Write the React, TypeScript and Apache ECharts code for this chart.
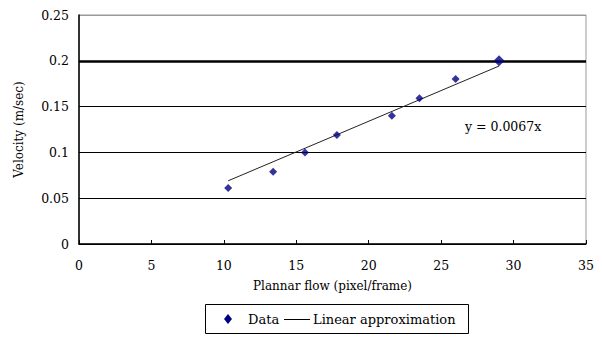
import React, { useEffect, useRef } from "react";
import * as echarts from "echarts";

const flowValues = [10.3, 13.4, 15.6, 17.8, 21.6, 23.5, 26.0, 29.0];
const velocityValues = [0.061, 0.079, 0.1, 0.119, 0.14, 0.159, 0.18, 0.2];
const slope = 0.0067;
const trendRange = [10.3, 29.0];
const xTicks = [0, 5, 10, 15, 20, 25, 30, 35];
const yTicks = [0, 0.05, 0.1, 0.15, 0.2, 0.25];
const equationLabel = "y = 0.0067x";
const xName = "Plannar flow (pixel/frame)";
const yName = "Velocity (m/sec)";
const legendNames = ["Data", "Linear approximation"];

const FONT = "DejaVu Serif";

export default function App() {
  const ref = useRef<HTMLDivElement>(null);
  useEffect(() => {
    if (!ref.current) return;
    const chart = echarts.init(ref.current, null, { renderer: "svg" });
    const pts = flowValues.map((x, i) => ({
      value: [x, velocityValues[i]],
      symbolSize: i === flowValues.length - 1 ? 11 : 8,
    }));
    const trend = trendRange.map((x) => [x, slope * x]);
    chart.setOption({
      animation: false,
      backgroundColor: "#fff",
      grid: {
        left: 79,
        right: 16,
        top: 15,
        bottom: 93,
        show: true,
        borderColor: "#999",
        borderWidth: 1,
      },
      xAxis: {
        type: "value",
        min: xTicks[0],
        max: xTicks[xTicks.length - 1],
        interval: 5,
        name: xName,
        nameLocation: "middle",
        nameGap: 36,
        nameTextStyle: { fontFamily: FONT, fontSize: 12, color: "#000" },
        axisLine: { show: true, lineStyle: { color: "#000", width: 1.5 } },
        axisTick: { show: true, inside: true, length: 4, lineStyle: { color: "#000" } },
        axisLabel: { fontFamily: FONT, fontSize: 12.5, color: "#000", margin: 15 },
        splitLine: { show: false },
      },
      yAxis: {
        type: "value",
        min: yTicks[0],
        max: yTicks[yTicks.length - 1],
        interval: 0.05,
        name: yName,
        nameLocation: "middle",
        nameGap: 54,
        nameTextStyle: { fontFamily: FONT, fontSize: 12, color: "#000" },
        axisLine: { show: true, lineStyle: { color: "#000", width: 1.5 } },
        axisTick: { show: false },
        axisLabel: { fontFamily: FONT, fontSize: 12.5, color: "#000", margin: 10 },
        splitLine: {
          show: true,
          lineStyle: { color: ["#000", "#000", "#000", "#000", "#000", "#999"], width: 1.2 },
        },
      },
      series: [
        {
          name: legendNames[1],
          type: "line",
          data: trend,
          symbol: "none",
          lineStyle: { color: "#222", width: 1 },
          z: 2,
          markLine: {
            silent: true,
            symbol: "none",
            label: { show: false },
            lineStyle: { color: "#000", width: 2.5, type: "solid" },
            data: [{ yAxis: 0.2 }],
            z: 1,
          },
        },
        {
          name: legendNames[0],
          type: "scatter",
          data: pts,
          symbol: "diamond",
          itemStyle: { color: "#000080" },
          z: 3,
        },
      ],
      graphic: [
        {
          type: "text",
          left: 465,
          top: 120,
          style: { text: equationLabel, font: `12.5px '${FONT}'`, fill: "#000" },
        },
        {
          type: "rect",
          shape: { x: 205.5, y: 304.5, width: 263, height: 29 },
          style: { fill: "#fff", stroke: "#000", lineWidth: 1 },
        },
        {
          type: "polygon",
          shape: { points: [[228, 314], [232, 319], [228, 324], [224, 319]] },
          style: { fill: "#000080" },
        },
        {
          type: "text",
          x: 248,
          y: 319,
          style: { text: legendNames[0], font: `13px '${FONT}'`, fill: "#000", verticalAlign: "middle" },
        },
        {
          type: "line",
          shape: { x1: 284, y1: 319.5, x2: 310, y2: 319.5 },
          style: { stroke: "#000", lineWidth: 1 },
        },
        {
          type: "text",
          x: 313,
          y: 319,
          style: { text: legendNames[1], font: `13px '${FONT}'`, fill: "#000", verticalAlign: "middle" },
        },
      ],
    });
    return () => chart.dispose();
  }, []);
  return <div ref={ref} style={{ width: 602, height: 337, position: "fixed", left: 0, top: 0 }} />;
}
